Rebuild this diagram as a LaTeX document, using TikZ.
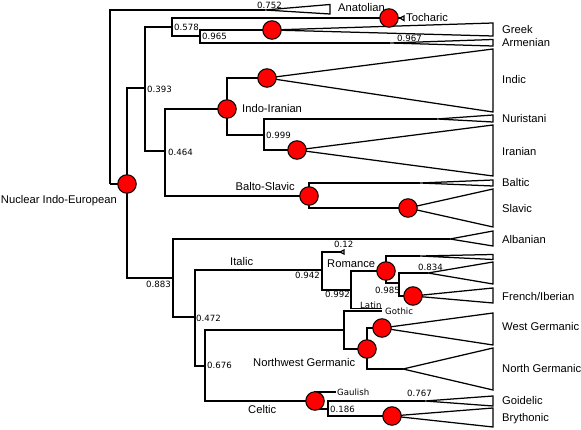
\documentclass[tikz,border=0pt]{standalone}
\usepackage{fontspec}
\setmainfont{Liberation Sans}
\newfontfamily\numfont{DejaVu Sans}
\begin{document}
\begin{tikzpicture}[x=1pt,y=-1pt,
  br/.style={line width=1.3pt, line join=miter},
  tri/.style={line width=1.25pt, line join=miter, fill=white},
  dot/.style={circle, fill=red, draw=black, line width=1pt, minimum size=18.5pt, inner sep=0pt},
  lab/.style={inner sep=0pt, anchor=west, font=\fontsize{11.2}{13}\selectfont},
  num/.style={inner sep=0pt, anchor=west, font=\numfont\fontsize{8.6}{10}\selectfont},
  small/.style={inner sep=0pt, anchor=west, font=\numfont\fontsize{8.6}{10}\selectfont}]
\useasboundingbox (0,0) rectangle (581,430);
% internal coordinates
\coordinate (root) at (110,184);
\coordinate (nie) at (127,184);
\coordinate (n393) at (145,88);
\coordinate (n578) at (172,27);
\coordinate (n965) at (200,36);
\coordinate (n464) at (165,151);
\coordinate (ii) at (227,109);
\coordinate (n999) at (264,135);
\coordinate (bs) at (309,196);
\coordinate (n883) at (173,278);
\coordinate (n472) at (195,317);
\coordinate (n942) at (322,270);
\coordinate (n992) at (351,290);
\coordinate (rom) at (386,271);
\coordinate (n985) at (399,283);
\coordinate (n676) at (205,366);
\coordinate (nwg) at (344,330);
\coordinate (germ) at (367,349);
\coordinate (celt) at (315,401);
\coordinate (n186) at (328,409);
% clade apexes
\coordinate (anaA) at (265,10);
\coordinate (tochA) at (400,18);
\coordinate (tochD) at (389,18);
\coordinate (greekA) at (272,30);
\coordinate (armA) at (390,43);
\coordinate (indicA) at (267,78);
\coordinate (nurA) at (437,119);
\coordinate (iranA) at (297,150);
\coordinate (balA) at (420,183);
\coordinate (slavA) at (408,208);
\coordinate (albA) at (450,239);
\coordinate (t12A) at (340,252);
\coordinate (latinE) at (382,308.5);
\coordinate (romtopA) at (420,256);
\coordinate (a834) at (428,273);
\coordinate (frA) at (413,296);
\coordinate (gothE) at (382,311);
\coordinate (wgA) at (382,328);
\coordinate (ngA) at (403,369);
\coordinate (gaulE) at (336,392);
\coordinate (goiA) at (425,401);
\coordinate (bryA) at (392,416);
% branches
\draw[br] (root) |- (anaA);
\draw[br] (root) -- (nie);
\draw[br] (nie) |- (n393);
\draw[br] (nie) |- (n883);
\draw[br] (n393) |- (n578);
\draw[br] (n393) |- (n464);
\draw[br] (n578) |- (tochA);
\draw[br] (n578) |- (n965);
\draw[br] (n965) |- (greekA);
\draw[br] (n965) |- (armA);
\draw[br] (n464) |- (ii);
\draw[br] (n464) |- (bs);
\draw[br] (ii) |- (indicA);
\draw[br] (ii) |- (n999);
\draw[br] (n999) |- (nurA);
\draw[br] (n999) |- (iranA);
\draw[br] (bs) |- (balA);
\draw[br] (bs) |- (slavA);
\draw[br] (n883) |- (albA);
\draw[br] (n883) |- (n472);
\draw[br] (n472) |- (n942);
\draw[br] (n472) |- (n676);
\draw[br] (n942) |- (t12A);
\draw[br] (n942) |- (n992);
\draw[br] (n992) |- (rom);
\draw[br] (n992) |- (latinE);
\draw[br] (rom) |- (romtopA);
\draw[br] (rom) |- (n985);
\draw[br] (n985) |- (a834);
\draw[br] (n985) |- (frA);
\draw[br] (n676) |- (nwg);
\draw[br] (n676) |- (celt);
\draw[br] (nwg) |- (gothE);
\draw[br] (nwg) |- (germ);
\draw[br] (germ) |- (wgA);
\draw[br] (germ) |- (ngA);
\draw[br] (celt) |- (gaulE);
\draw[br] (celt) |- (n186);
\draw[br] (n186) |- (goiA);
\draw[br] (n186) |- (bryA);
% clade triangles
\draw[tri] (anaA) -- (330,4.5) -- (330,14) -- cycle;
\draw[tri] (tochA) -- (404,16) -- (404,20.5) -- cycle;
\draw[tri] (greekA) -- (493,23) -- (493,36) -- cycle;
\draw[tri] (armA) -- (493,39.5) -- (493,46) -- cycle;
\draw[tri] (indicA) -- (493,49) -- (493,112) -- cycle;
\draw[tri] (nurA) -- (493,115) -- (493,122) -- cycle;
\draw[tri] (iranA) -- (493,125) -- (493,176) -- cycle;
\draw[tri] (balA) -- (493,180) -- (493,186) -- cycle;
\draw[tri] (slavA) -- (493,189) -- (493,227) -- cycle;
\draw[tri] (albA) -- (493,231) -- (493,246) -- cycle;
\draw[tri] (t12A) -- (344,250) -- (344,254) -- cycle;
\draw[tri] (romtopA) -- (493,254.5) -- (493,259.5) -- cycle;
\draw[tri] (a834) -- (493,262) -- (493,284) -- cycle;
\draw[tri] (frA) -- (493,288) -- (493,303) -- cycle;
\draw[tri] (wgA) -- (493,313) -- (493,345) -- cycle;
\draw[tri] (ngA) -- (493,348) -- (493,390) -- cycle;
\draw[tri] (goiA) -- (493,396) -- (493,406) -- cycle;
\draw[tri] (bryA) -- (493,408) -- (493,427) -- cycle;
% red node markers
\node[dot] (dNIE) at (nie) {};
\node[dot] (dToch) at (tochD) {};
\node[dot] (dGreek) at (greekA) {};
\node[dot] (dII) at (ii) {};
\node[dot] (dIndic) at (indicA) {};
\node[dot] (dIran) at (iranA) {};
\node[dot] (dBS) at (bs) {};
\node[dot] (dSlav) at (slavA) {};
\node[dot] (dRom) at (rom) {};
\node[dot] (dFr) at (frA) {};
\node[dot] (dGerm) at (germ) {};
\node[dot] (dWG) at (wgA) {};
\node[dot] (dCelt) at (celt) {};
\node[dot] (dBry) at (bryA) {};
% clade labels
\node[lab] (lAna) at (338,8) {Anatolian};
\node[lab] (lToch) at (406,17.5) {Tocharic};
\node[lab] (lGreek) at (502,30) {Greek};
\node[lab] (lArm) at (502,42.5) {Armenian};
\node[lab] (lIndic) at (502,80) {Indic};
\node[lab] (lNur) at (502,118.5) {Nuristani};
\node[lab] (lIran) at (502,151) {Iranian};
\node[lab] (lBal) at (502,182.5) {Baltic};
\node[lab] (lSlav) at (502,208.5) {Slavic};
\node[lab] (lAlb) at (502,239.5) {Albanian};
\node[lab] (lFr) at (502,296.5) {French/Iberian};
\node[lab] (lWG) at (502,326.5) {West Germanic};
\node[lab] (lNG) at (502,368.5) {North Germanic};
\node[lab] (lGoi) at (502,400.5) {Goidelic};
\node[lab] (lBry) at (502,418.5) {Brythonic};
\node[lab, anchor=east] (lNIE) at (117,201) {Nuclear Indo-European};
\node[lab] (lII) at (242,108.5) {Indo-Iranian};
\node[lab, anchor=east] (lBS) at (295,186) {Balto-Slavic};
\node[lab] (lIt) at (230,261.5) {Italic};
\node[lab] (lRom) at (327,263.5) {Romance};
\node[lab] (lNWG) at (253,362.5) {Northwest Germanic};
\node[lab] (lCelt) at (248,409.5) {Celtic};
\node[small] (lGaul) at (337,392.5) {Gaulish};
\node[small] (lGoth) at (385,311) {Gothic};
\node[small] (lLat) at (360,305) {Latin};
% support values
\node[num] (v752) at (257,5) {0.752};
\node[num] (v578) at (174,27) {0.578};
\node[num] (v965) at (202,36) {0.965};
\node[num] (v967) at (397,38) {0.967};
\node[num] (v393) at (147,89) {0.393};
\node[num] (v999) at (266,135) {0.999};
\node[num] (v464) at (168,152) {0.464};
\node[num] (v883) at (146,284) {0.883};
\node[num] (v12) at (334,244) {0.12};
\node[num] (v942) at (295,275) {0.942};
\node[num] (v834) at (418,267) {0.834};
\node[num] (v992) at (325,294) {0.992};
\node[num] (v985) at (375,290) {0.985};
\node[num] (v472) at (196,318) {0.472};
\node[num] (v676) at (207,365) {0.676};
\node[num] (v767) at (407,393) {0.767};
\node[num] (v186) at (330,409) {0.186};
\end{tikzpicture}
\end{document}
